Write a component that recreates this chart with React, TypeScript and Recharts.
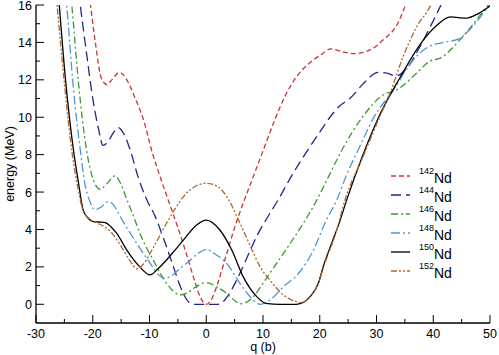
import React from "react";
import { LineChart, Line, XAxis, YAxis, Legend, Label } from "recharts";

// deformation q (b) and energy (MeV) for each isotope
const q142 = [-21.2, -20.4, -19.5, -18.5, -17.5, -16.5, -15.3, -14, -12.5, -11, -9.5, -8, -6.5, -5, -3.5, -2, -1, 0, 1, 2, 3.5, 5, 6.5, 8, 10, 12, 14, 16, 18, 20, 22, 24, 26, 28.9, 31.2, 33.6, 35, 35.5];
const e142 = [17.8, 16, 13.9, 12.1, 11.75, 12.05, 12.4, 12.0, 11.0, 9.8, 8.1, 6.7, 5.4, 4.1, 2.7, 1.2, 0.35, 0, 0.3, 1.1, 2.6, 4.1, 5.4, 6.6, 8.2, 9.8, 11.2, 12.2, 12.85, 13.3, 13.65, 13.5, 13.4, 13.6, 14.14, 14.94, 15.9, 16.3];

const q144 = [-22.8, -22.2, -21, -20, -19, -18.2, -17.3, -16.3, -15.5, -14.5, -13.4, -12, -10.5, -9, -7.5, -6, -4.5, -3, -2, 0, 2, 3, 4.5, 6, 7.7, 9, 10.5, 12.7, 15.2, 18, 20, 21.8, 23.5, 25.3, 27.7, 30.3, 32, 33.3, 35.3, 37.7, 39.5, 41.2, 42];
const e144 = [17.5, 16, 13.2, 11.0, 9.4, 8.5, 8.7, 9.2, 9.45, 9.1, 8.25, 6.8, 5.6, 4.7, 3.5, 2.2, 0.9, 0.1, 0, 0, 0, 0.15, 0.8, 1.7, 2.85, 3.7, 4.5, 5.6, 6.95, 8.3, 9.2, 10.0, 10.6, 11.0, 11.8, 12.4, 12.35, 12.2, 12.6, 13.8, 14.85, 15.9, 16.4];

const q146 = [-24.2, -23.7, -22.5, -21.1, -19.9, -18.7, -17.5, -16.1, -15, -14, -12.8, -11.7, -10.5, -9.3, -8, -7, -5.8, -4.6, -3.4, -2, 0, 2, 3.6, 5, 6, 7, 8.3, 10, 12.4, 14.8, 17.1, 19.5, 21.5, 24, 27.5, 31.2, 33.6, 37.1, 39.4, 41.2, 44.7, 47.1, 49.4, 50];
const e146 = [17.5, 16, 11.8, 8.25, 6.65, 6.15, 6.45, 6.86, 6.4, 5.6, 4.7, 3.8, 3.0, 2.35, 1.6, 1.12, 0.7, 0.5, 0.6, 0.9, 1.16, 0.9, 0.59, 0.2, 0.03, 0.1, 0.41, 1.12, 2.19, 3.26, 4.33, 5.58, 6.8, 8.3, 10.0, 11.2, 11.47, 12.36, 13.0, 13.16, 14.14, 15.0, 15.9, 16.1];

const q148 = [-25.1, -24.6, -23.4, -22.2, -21.4, -20.5, -19.6, -18.5, -17.3, -16.3, -15.5, -13.4, -11.7, -9.9, -8.5, -7.4, -6, -4.5, -3.45, -1.5, 0, 1.5, 3.6, 5.95, 8.3, 9.5, 11.2, 13.6, 16.5, 18.9, 20.9, 23, 24.7, 27, 29.45, 33, 36.5, 38.8, 41.8, 44.4, 47.1, 49.7, 50];
const e148 = [17.5, 16, 11.5, 8.25, 6.47, 5.5, 5.05, 5.2, 5.49, 5.3, 4.87, 3.8, 3.0, 2.2, 1.6, 1.4, 1.55, 1.95, 2.19, 2.7, 2.94, 2.7, 2.19, 1.12, 0.23, 0, 0.23, 0.94, 1.74, 2.9, 4.33, 5.58, 6.9, 8.4, 9.95, 11.47, 13.07, 13.7, 14.0, 14.18, 14.9, 15.9, 16];

const q150 = [-26.3, -25.9, -24.8, -23.4, -22.5, -21.7, -20.8, -19.9, -18.8, -17.8, -16.8, -15.8, -14, -11.7, -9.9, -8.5, -7, -5.5, -4, -1.7, 0, 2.4, 4.5, 6.5, 8.9, 10.5, 13, 15.9, 17.2, 18.3, 19.75, 20.6, 22.1, 23.6, 24.75, 27.5, 30.3, 34.1, 37.7, 40.6, 43, 45.9, 47.7, 50];
const e150 = [17.5, 16, 12.0, 8.25, 6.47, 5.05, 4.6, 4.42, 4.4, 4.37, 4.15, 3.8, 2.9, 2.0, 1.57, 1.9, 2.37, 2.9, 3.44, 4.24, 4.5, 3.97, 2.9, 1.48, 0.41, 0.05, 0, 0, 0.12, 0.41, 1.12, 2.0, 3.26, 4.5, 5.58, 7.9, 9.95, 12.1, 13.9, 14.9, 15.36, 15.3, 15.5, 15.95];

const q152 = [-26.8, -26.3, -25, -23.6, -22.6, -21.7, -20.5, -19.3, -18, -16.6, -15, -13.5, -12.2, -11.2, -9.3, -7, -5.5, -4, -2, 0, 2, 3.6, 5.95, 7.7, 9.5, 11.2, 13.6, 15.9, 17, 18, 19.5, 20.9, 23, 24.45, 27.5, 30.6, 32.4, 34.7, 37.1, 39.4, 40];
const e152 = [17.5, 16, 11.8, 8.0, 6.2, 5.0, 4.55, 4.35, 4.15, 3.8, 3.1, 2.35, 1.9, 2.1, 3.05, 4.33, 5.1, 5.76, 6.3, 6.47, 6.3, 5.76, 4.33, 3.16, 2.0, 1.3, 0.5, 0.14, 0.08, 0.32, 0.94, 2.19, 3.97, 5.58, 7.8, 10.04, 11.3, 13.25, 14.85, 15.9, 16.3];

const xTicks = [-30, -25, -20, -15, -10, -5, 0, 5, 10, 15, 20, 25, 30, 35, 40, 45, 50];
const yTicks = [0, 1, 2, 3, 4, 5, 6, 7, 8, 9, 10, 11, 12, 13, 14, 15, 16];

const toPoints = (qs: number[], es: number[]) => qs.map((q, i) => ({ q, e: es[i] }));

const series = [
  { mass: "142", data: toPoints(q142, e142), color: "#cc3333", dash: "5 3" },
  { mass: "144", data: toPoints(q144, e144), color: "#25258c", dash: "10 5" },
  { mass: "146", data: toPoints(q146, e146), color: "#3a9a32", dash: "7 3 2 3" },
  { mass: "148", data: toPoints(q148, e148), color: "#4d97d4", dash: "9 3 2 3" },
  { mass: "150", data: toPoints(q150, e150), color: "#000000", dash: undefined },
  { mass: "152", data: toPoints(q152, e152), color: "#b0652b", dash: "6 2 2 2 2 2" },
];

const FONT = "'Liberation Sans', Arial, sans-serif";

// ticks point into the plot; majors longer, only majors labelled
const makeTick = (side: "bottom" | "top" | "left" | "right") => (props: any) => {
  const { x, y, payload } = props;
  const v = payload.value;
  const major = side === "bottom" || side === "top" ? v % 10 === 0 : v % 2 === 0;
  const len = major ? 8 : 4;
  if (side === "bottom")
    return (
      <g>
        <line x1={x} x2={x} y1={y} y2={y - len} stroke="#000" />
        {major && (
          <text x={x} y={y + 15} textAnchor="middle" fontSize={12.5} fontFamily={FONT} fill="#000">
            {v}
          </text>
        )}
      </g>
    );
  if (side === "top") return <line x1={x} x2={x} y1={y} y2={y + len} stroke="#000" />;
  if (side === "left")
    return (
      <g>
        <line x1={x} x2={x + len} y1={y} y2={y} stroke="#000" />
        {major && (
          <text x={x - 4} y={y + 4.5} textAnchor="end" fontSize={12.5} fontFamily={FONT} fill="#000">
            {v}
          </text>
        )}
      </g>
    );
  return <line x1={x} x2={x - len} y1={y} y2={y} stroke="#000" />;
};

const IsotopeLegend = () => (
  <svg width={100} height={120}>
    {series.map((s, i) => {
      const cy = 11 + i * 19;
      return (
        <g key={s.mass}>
          <line x1={6} x2={25} y1={cy} y2={cy} stroke={s.color} strokeWidth={1.3} strokeDasharray={s.dash} />
          <text x={34} y={cy - 2} fontSize={9} fontFamily={FONT} fill="#000">
            {s.mass}
          </text>
          <text x={49} y={cy + 7} fontSize={14} fontFamily={FONT} fill="#000">
            Nd
          </text>
        </g>
      );
    })}
  </svg>
);

export default function App() {
  return (
    <div style={{ position: "absolute", left: 0, top: 0, width: 499, height: 355, background: "#fff" }}>
      <LineChart width={499} height={355} margin={{ top: 5, right: 9, bottom: 0, left: 0 }}>
        <XAxis
          dataKey="q"
          type="number"
          domain={[-30, 50]}
          allowDataOverflow
          ticks={xTicks}
          interval={0}
          height={32}
          tickSize={0}
          tickMargin={0}
          tick={makeTick("bottom")}
          axisLine={{ stroke: "#000", strokeWidth: 1.3 }}
        >
          <Label value="q (b)" position="insideBottom" offset={4} fontSize={12.5} fontFamily={FONT} fill="#000" />
        </XAxis>
        <XAxis
          xAxisId="top"
          orientation="top"
          type="number"
          domain={[-30, 50]}
          ticks={xTicks}
          interval={0}
          height={0}
          tickSize={0}
          tickMargin={0}
          tick={makeTick("top")}
          axisLine={{ stroke: "#000", strokeWidth: 1.3 }}
        />
        <YAxis
          type="number"
          domain={[-1, 16]}
          allowDataOverflow
          ticks={yTicks}
          interval={0}
          width={36}
          tickSize={0}
          tickMargin={0}
          tick={makeTick("left")}
          axisLine={{ stroke: "#000", strokeWidth: 1.3 }}
        >
          <Label
            value="energy (MeV)"
            angle={-90}
            position="insideLeft"
            offset={10}
            style={{ textAnchor: "middle" }}
            fontSize={12.5}
            fontFamily={FONT}
            fill="#000"
          />
        </YAxis>
        <YAxis
          yAxisId="right"
          orientation="right"
          type="number"
          domain={[-1, 16]}
          ticks={yTicks}
          interval={0}
          width={0}
          tickSize={0}
          tickMargin={0}
          tick={makeTick("right")}
          axisLine={{ stroke: "#000", strokeWidth: 1.3 }}
        />
        {series.map((s) => (
          <Line
            key={s.mass}
            data={s.data}
            dataKey="e"
            type="monotone"
            stroke={s.color}
            strokeWidth={1.3}
            strokeDasharray={s.dash}
            dot={false}
            isAnimationActive={false}
          />
        ))}
        <Legend
          layout="vertical"
          align="center"
          verticalAlign="middle"
          content={() => <IsotopeLegend />}
          wrapperStyle={{ left: 385, top: 165, width: 100, height: 120 }}
        />
      </LineChart>
    </div>
  );
}
